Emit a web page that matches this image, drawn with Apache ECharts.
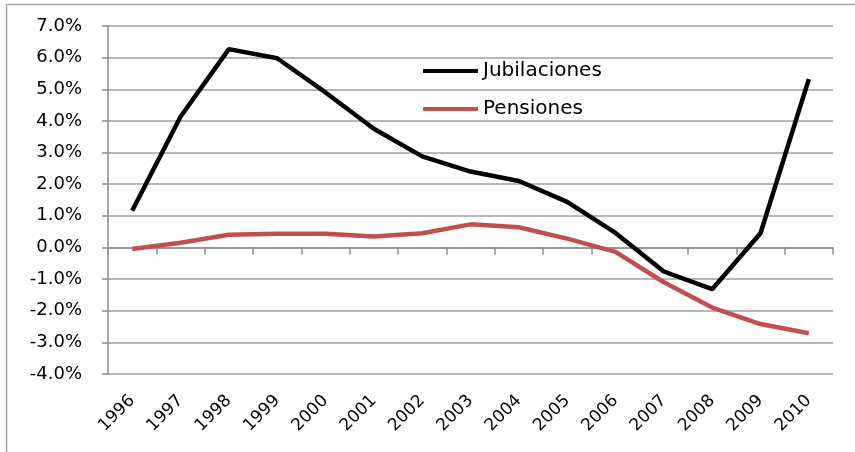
<!DOCTYPE html>
<html>
<head>
<meta charset="utf-8">
<script src="https://cdn.jsdelivr.net/npm/echarts@6/dist/echarts.min.js"></script>
<style>html,body{margin:0;padding:0;background:#fff;}#c{width:855px;height:452px;}</style>
</head>
<body>
<div id="c"></div>
<script>
var years = ['1996','1997','1998','1999','2000','2001','2002','2003','2004','2005','2006','2007','2008','2009','2010'];
var jubilaciones = [1.16, 4.13, 6.27, 5.98, 4.9, 3.75, 2.88, 2.4, 2.1, 1.44, 0.46, -0.76, -1.32, 0.45, 5.32];
var pensiones = [-0.05, 0.15, 0.4, 0.43, 0.43, 0.35, 0.45, 0.73, 0.64, 0.28, -0.14, -1.1, -1.9, -2.42, -2.71];
var seriesNames = ['Jubilaciones', 'Pensiones'];
var colors = ['#000000', '#C0504D'];

var chart = echarts.init(document.getElementById('c'));
var axisFont = 'DejaVu Sans';
chart.setOption({
  animation: false,
  graphic: [{
    type: 'rect', silent: true,
    shape: {x: 6.5, y: 4.5, width: 900, height: 500},
    style: {fill: 'none', stroke: '#a6a6a6', lineWidth: 1.5}
  }],
  grid: {left: 108, right: 22, top: 26, bottom: 78},
  legend: {
    orient: 'vertical',
    left: 423, top: 61, padding: 0,
    itemWidth: 55, itemHeight: 4,
    itemGap: 18,
    icon: 'rect',
    textStyle: {fontFamily: axisFont, fontSize: 20, color: '#000', lineHeight: 20},
    data: seriesNames
  },
  xAxis: {
    type: 'category',
    data: years,
    boundaryGap: true,
    axisLine: {lineStyle: {color: '#8c8c8c', width: 1.5}},
    axisTick: {show: true, length: 7, inside: false, lineStyle: {color: '#8c8c8c', width: 1.5}},
    axisLabel: {rotate: 45, margin: 24, fontFamily: axisFont, fontSize: 17, color: '#000', interval: 0}
  },
  yAxis: {
    type: 'value',
    min: -4, max: 7, interval: 1,
    axisLine: {show: true, lineStyle: {color: '#8c8c8c', width: 1.5}},
    axisTick: {show: true, length: 6, lineStyle: {color: '#8c8c8c', width: 1.5}},
    splitLine: {show: true, lineStyle: {color: '#a0a0a0', width: 1.5}},
    axisLabel: {margin: 26, fontFamily: axisFont, fontSize: 18, color: '#000',
      formatter: function (v) { return v.toFixed(1) + '%'; }}
  },
  series: [
    {name: seriesNames[0], type: 'line', data: jubilaciones, symbol: 'none',
      lineStyle: {color: colors[0], width: 4.5}, itemStyle: {color: colors[0]}, z: 3},
    {name: seriesNames[1], type: 'line', data: pensiones, symbol: 'none',
      lineStyle: {color: colors[1], width: 4.5}, itemStyle: {color: colors[1]}, z: 2}
  ]
});
</script>
</body>
</html>
